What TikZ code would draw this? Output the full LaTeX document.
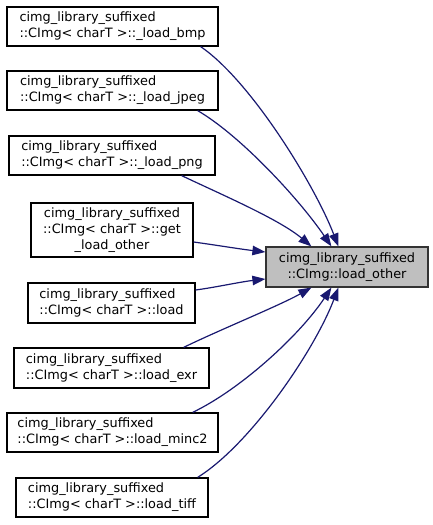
\documentclass[tikz,border=0pt]{standalone}
\usepackage{fontspec}
\usetikzlibrary{arrows.meta}
\newfontfamily\dvsans{DejaVu Sans}
\definecolor{edgeblue}{RGB}{25,25,112}
\definecolor{hlgrey}{RGB}{191,191,191}
\tikzset{
  fnbox/.style={draw=black, line width=1.2bp, fill=white, align=left,
    inner sep=0pt, minimum height=39bp,
    font={\dvsans\fontsize{12.9}{16}\selectfont}},
  fnhl/.style={fnbox, fill=hlgrey, draw=black!80, align=center},
  call/.style={draw=edgeblue, line width=1.2bp,
    -{Triangle[length=13bp,width=9.5bp]}, color=edgeblue}
}
\begin{document}
\begin{tikzpicture}[x=1bp, y=-1bp]
  \useasboundingbox (0,0) rectangle (433,525);

  % callers
  \node[fnbox, minimum width=211bp] (bmp)  at (112.5,26.5)
    {cimg\_library\_suffixed\\::CImg< charT >::\_load\_bmp};
  \node[fnbox, minimum width=211bp] (jpeg) at (112.5,90.5)
    {cimg\_library\_suffixed\\::CImg< charT >::\_load\_jpeg};
  \node[fnbox, minimum width=206bp] (png)  at (112,155.5)
    {cimg\_library\_suffixed\\::CImg< charT >::\_load\_png};
  \node[fnbox, align=center, minimum width=162bp, minimum height=54bp] (glo) at (112,230)
    {cimg\_library\_suffixed\\::CImg< charT >::get\\\_load\_other};
  \node[fnbox, minimum width=167bp, minimum height=40bp] (load) at (111.5,303)
    {cimg\_library\_suffixed\\::CImg< charT >::load};
  \node[fnbox, minimum width=195bp, minimum height=40bp] (exr)  at (111.5,368)
    {cimg\_library\_suffixed\\::CImg< charT >::load\_exr};
  \node[fnbox, minimum width=211bp] (minc) at (112.5,432.5)
    {cimg\_library\_suffixed\\::CImg< charT >::load\_minc2};
  \node[fnbox, minimum width=192bp] (tiff) at (112,497.5)
    {cimg\_library\_suffixed\\::CImg< charT >::load\_tiff};

  % called function
  \node[fnhl, minimum width=162bp, minimum height=40bp] (lo) at (347,267)
    {cimg\_library\_suffixed\\::CImg::load\_other};

  % call edges
  \draw[call] ([xshift=-18bp]bmp.south east)
    .. controls +(50,34) and +(-24,-62) .. ([xshift=73bp]lo.north west);
  \draw[call] ([xshift=-21bp]jpeg.south east)
    .. controls +(43,25) and +(-32,-47) .. ([xshift=66bp]lo.north west);
  \draw[call] ([xshift=-34bp]png.south east)
    .. controls +(40,19) and +(-32,-27) .. ([xshift=46bp]lo.north west);
  \draw[call] ([yshift=-12bp]glo.east)
    .. controls +(22,3) and +(-26,-3) .. ([yshift=15bp]lo.west);
  \draw[call] ([yshift=13bp]load.east)
    .. controls +(22,-3) and +(-26,3) .. ([yshift=-12bp]lo.west);
  \draw[call] ([xshift=-26bp]exr.north east)
    .. controls +(37,-18) and +(-32,18) .. ([xshift=46bp]lo.south west);
  \draw[call] ([xshift=-26bp]minc.north east)
    .. controls +(48,-23) and +(-32,48) .. ([xshift=66bp]lo.south west);
  \draw[call] ([xshift=-11bp]tiff.north east)
    .. controls +(53,-33) and +(-24,63) .. ([xshift=73bp]lo.south west);
\end{tikzpicture}
\end{document}
